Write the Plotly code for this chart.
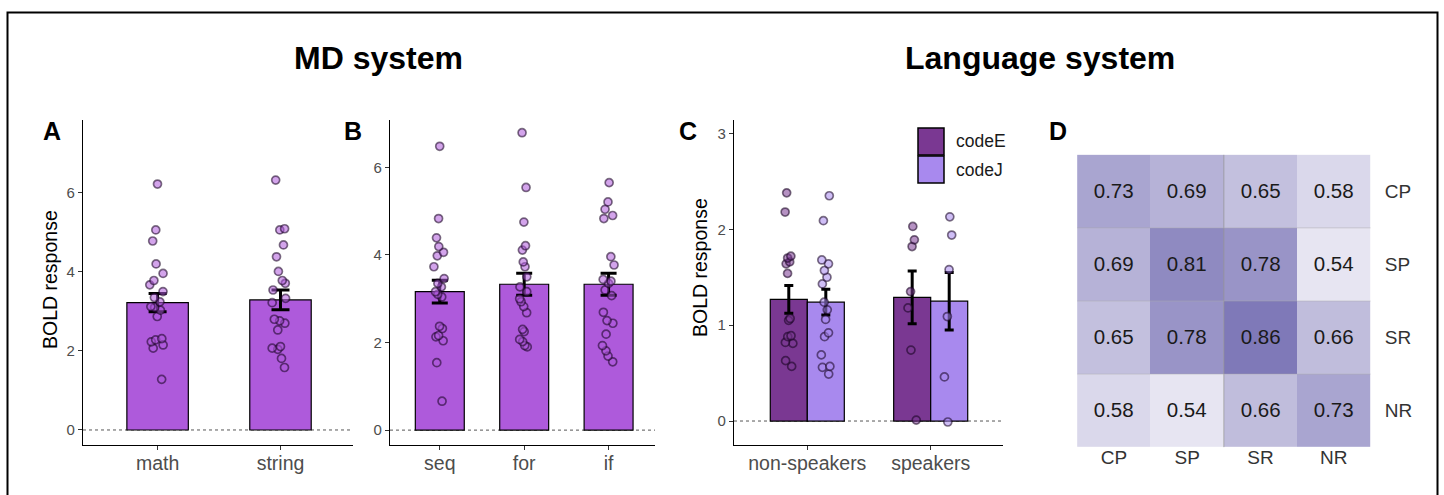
import plotly.graph_objects as go

# ---------------- data ----------------
md_a_categories = ["math", "string"]
md_a_means = [3.22, 3.29]
md_a_se = [0.23, 0.25]
md_a_math_points = [6.22, 5.06, 4.78, 4.20, 3.96, 3.78, 3.67, 3.50, 3.35, 3.24,
                    3.12, 3.03, 2.87, 2.31, 2.28, 2.23, 2.15, 2.07, 1.28, 3.10]
md_a_string_points = [6.32, 5.09, 5.06, 4.68, 4.38, 4.01, 3.78, 3.71, 3.54, 3.33,
                       3.22, 2.80, 2.76, 2.70, 2.53, 2.11, 2.07, 2.04, 1.81, 1.58]

md_b_categories = ["seq", "for", "if"]
md_b_means = [3.16, 3.33, 3.33]
md_b_se = [0.26, 0.25, 0.25]
md_b_seq_points = [6.48, 4.83, 4.39, 4.19, 4.06, 3.98, 3.73, 3.46, 3.27, 3.16,
                   3.04, 2.37, 2.32, 2.16, 2.13, 2.04, 1.54, 0.66, 3.35, 3.10]
md_b_for_points = [6.79, 5.54, 4.75, 4.21, 4.11, 3.84, 3.73, 3.50, 3.27, 3.16,
                   2.93, 2.82, 2.68, 2.30, 2.25, 2.07, 2.02, 1.93, 1.90, 3.00]
md_b_if_points = [5.65, 5.21, 5.04, 4.90, 4.83, 3.96, 3.77, 3.44, 3.35, 3.20,
                  3.07, 2.69, 2.50, 2.44, 2.19, 1.93, 1.81, 1.69, 1.56, 3.40]

lang_c_groups = ["non-speakers", "speakers"]
lang_c_codeE_means = [1.27, 1.29]
lang_c_codeE_se = [0.145, 0.275]
lang_c_codeJ_means = [1.24, 1.25]
lang_c_codeJ_se = [0.135, 0.30]
lang_c_codeE_nonspk_points = [2.38, 2.18, 1.72, 1.70, 1.66, 1.64, 1.54, 1.07, 1.05,
                              0.89, 0.88, 0.82, 0.81, 0.63, 0.57]
lang_c_codeJ_nonspk_points = [2.35, 2.09, 1.68, 1.64, 1.57, 1.50, 1.43, 1.24, 1.16,
                              1.06, 0.92, 0.88, 0.69, 0.57, 0.56, 0.49]
lang_c_codeE_spk_points = [2.03, 1.89, 1.82, 1.35, 1.18, 0.74, 0.01]
lang_c_codeJ_spk_points = [2.13, 1.94, 1.58, 1.09, 0.46, -0.01]

heat_labels = ["CP", "SP", "SR", "NR"]
heat_values = [
    [0.73, 0.69, 0.65, 0.58],
    [0.69, 0.81, 0.78, 0.54],
    [0.65, 0.78, 0.86, 0.66],
    [0.58, 0.54, 0.66, 0.73],
]

# ---------------- style ----------------
W, H = 1444, 495
FONT = "Liberation Sans, Arial, Helvetica, sans-serif"
BAR_MD = "#AE5ADB"
BAR_E = "#7A3892"
BAR_J = "#A889EE"
PT_MD = "rgba(174,90,219,0.55)"
PT_E = "rgba(122,56,146,0.55)"
PT_J = "rgba(168,137,238,0.55)"
PT_LINE = dict(color="rgba(20,0,30,0.55)", width=1.7)
TICK_GRAY = "#4D4D4D"


def px(x):
    return x / W


def py(y):
    return 1 - y / H


def jitter_box(xs, ys, color, xa, ya, group, align, jit):
    return go.Box(
        x=xs, y=ys, boxpoints="all", jitter=jit, pointpos=0, whiskerwidth=0,
        fillcolor="rgba(0,0,0,0)", line=dict(width=0, color="rgba(0,0,0,0)"),
        marker=dict(color=color, size=8, line=PT_LINE),
        offsetgroup=group, alignmentgroup=align,
        xaxis=xa, yaxis=ya, showlegend=False, hoverinfo="y")


fig = go.Figure()

# ---- Panel A ----
fig.add_trace(go.Bar(
    x=md_a_categories, y=md_a_means, width=0.5,
    marker=dict(color=BAR_MD, line=dict(color="black", width=1.2)),
    error_y=dict(type="data", array=md_a_se, color="black", thickness=3, width=9),
    xaxis="x", yaxis="y", showlegend=False))
fig.add_trace(jitter_box(
    [md_a_categories[0]] * len(md_a_math_points) + [md_a_categories[1]] * len(md_a_string_points),
    md_a_math_points + md_a_string_points, PT_MD, "x", "y", "a", "ga", 0.27))

# ---- Panel B ----
fig.add_trace(go.Bar(
    x=md_b_categories, y=md_b_means, width=0.58,
    marker=dict(color=BAR_MD, line=dict(color="black", width=1.2)),
    error_y=dict(type="data", array=md_b_se, color="black", thickness=3, width=8),
    xaxis="x2", yaxis="y2", showlegend=False))
b_x = ([md_b_categories[0]] * len(md_b_seq_points) + [md_b_categories[1]] * len(md_b_for_points)
       + [md_b_categories[2]] * len(md_b_if_points))
fig.add_trace(jitter_box(b_x, md_b_seq_points + md_b_for_points + md_b_if_points,
                         PT_MD, "x2", "y2", "b", "gb", 0.27))

# ---- Panel C ----
fig.add_trace(go.Bar(
    x=lang_c_groups, y=lang_c_codeE_means, name="codeE",
    marker=dict(color=BAR_E, line=dict(color="black", width=1.2)),
    error_y=dict(type="data", array=lang_c_codeE_se, color="black", thickness=3, width=4.5),
    xaxis="x3", yaxis="y3", showlegend=False))
fig.add_trace(go.Bar(
    x=lang_c_groups, y=lang_c_codeJ_means, name="codeJ",
    marker=dict(color=BAR_J, line=dict(color="black", width=1.2)),
    error_y=dict(type="data", array=lang_c_codeJ_se, color="black", thickness=3, width=4.5),
    xaxis="x3", yaxis="y3", showlegend=False))
fig.add_trace(jitter_box(
    [lang_c_groups[0]] * len(lang_c_codeE_nonspk_points) + [lang_c_groups[1]] * len(lang_c_codeE_spk_points),
    lang_c_codeE_nonspk_points + lang_c_codeE_spk_points, PT_E, "x3", "y3", "cE", "gc", 0.3))
fig.add_trace(jitter_box(
    [lang_c_groups[0]] * len(lang_c_codeJ_nonspk_points) + [lang_c_groups[1]] * len(lang_c_codeJ_spk_points),
    lang_c_codeJ_nonspk_points + lang_c_codeJ_spk_points, PT_J, "x3", "y3", "cJ", "gc", 0.3))

# ---- Panel D ----
fig.add_trace(go.Heatmap(
    z=heat_values, x=heat_labels, y=heat_labels,
    zmin=0.54, zmax=0.86,
    colorscale=[[0, "rgb(231,229,242)"], [1, "rgb(127,121,184)"]],
    showscale=False, texttemplate="%{z:.2f}",
    textfont=dict(size=20.5, color="#1a1a1a", family=FONT),
    xaxis="x4", yaxis="y4"))

# ---------------- axes ----------------
ydom = [py(445), py(120)]
common_x = dict(showline=True, linecolor="black", linewidth=1.2, ticks="outside",
                ticklen=4, tickcolor="#333333", tickwidth=1, showgrid=False,
                zeroline=False, tickfont=dict(size=19.5, color=TICK_GRAY, family=FONT),
                ticklabelstandoff=-4,
                type="category", fixedrange=True)
common_y = dict(showline=True, linecolor="black", linewidth=1.2, ticks="outside",
                ticklen=4, tickcolor="#333333", tickwidth=1, showgrid=False,
                zeroline=False, tickfont=dict(size=15, color=TICK_GRAY, family=FONT),
                fixedrange=True)

fig.update_layout(
    xaxis=dict(domain=[px(83), px(353)], range=[-0.607, 1.59], anchor="y", **common_x),
    yaxis=dict(domain=ydom, range=[-0.38, 7.84], tickvals=[0, 2, 4, 6], anchor="x", **common_y),
    xaxis2=dict(domain=[px(390), px(655)], range=[-0.59, 2.55], anchor="y2", **common_x),
    yaxis2=dict(domain=ydom, range=[-0.34, 7.08], tickvals=[0, 2, 4, 6], anchor="x2", **common_y),
    xaxis3=dict(domain=[px(734), px(1003)], range=[-0.594, 1.586], anchor="y3", **common_x),
    yaxis3=dict(domain=ydom, range=[-0.25, 3.14], tickvals=[0, 1, 2, 3], anchor="x3", **common_y),
    xaxis4=dict(domain=[px(1076.7), px(1371)], anchor="y4", showline=False, showgrid=False,
                zeroline=False, ticks="", ticklabelstandoff=-4,
                tickfont=dict(size=19, color="#333333", family=FONT), fixedrange=True),
    yaxis4=dict(domain=[py(447.7), py(154.3)], anchor="x4", side="right", autorange="reversed",
                showline=False, showgrid=False, zeroline=False, ticks="outside", ticklen=9,
                tickcolor="rgba(0,0,0,0)",
                tickfont=dict(size=19, color="#333333", family=FONT), fixedrange=True),
    barmode="group", bargap=0.4, bargroupgap=0,
    boxmode="group", boxgap=0.4, boxgroupgap=0,
    width=W, height=H, margin=dict(l=0, r=0, t=0, b=0),
    paper_bgcolor="white", plot_bgcolor="rgba(0,0,0,0)",
    font=dict(family=FONT, color="black"),
    showlegend=False,
)

shapes = []
# dotted zero lines
for xa, ya in [("x", "y"), ("x2", "y2"), ("x3", "y3")]:
    shapes.append(dict(type="line", xref=f"{xa} domain", yref=ya, x0=0, x1=1, y0=0, y1=0,
                       line=dict(color="#555555", width=1, dash="dot"), layer="below"))
# faint tile separators in panel D
shapes.append(dict(type="line", xref="x4", yref="y4", x0=1.5, x1=1.5, y0=-0.5, y1=3.5,
                   line=dict(color="rgba(150,150,150,0.75)", width=1)))
for yv in [0.5, 1.5, 2.5]:
    shapes.append(dict(type="line", xref="x4", yref="y4", x0=-0.5, x1=3.5, y0=yv, y1=yv,
                       line=dict(color="rgba(170,170,170,0.45)", width=1)))
# outer frame (left, top, right)
shapes.append(dict(type="path", xref="paper", yref="paper",
                   path=f"M {px(7.5)} -0.1 L {px(7.5)} {py(12.5)} L {px(1437.5)} {py(12.5)} L {px(1437.5)} -0.1",
                   line=dict(color="black", width=2)))
# manual legend keys for panel C
shapes.append(dict(type="rect", xref="paper", yref="paper", x0=px(918), x1=px(944),
                   y0=py(155), y1=py(128), fillcolor=BAR_E, line=dict(color="black", width=1.5)))
shapes.append(dict(type="rect", xref="paper", yref="paper", x0=px(918), x1=px(944),
                   y0=py(183), y1=py(156), fillcolor=BAR_J, line=dict(color="black", width=1.5)))
fig.update_layout(shapes=shapes)

ann = []


def add_text(text, x, y, size, bold=False, color="black", angle=0, xanchor="center"):
    ann.append(dict(text=f"<b>{text}</b>" if bold else text, x=px(x), y=py(y),
                    xref="paper", yref="paper", showarrow=False, textangle=angle,
                    xanchor=xanchor, yanchor="middle",
                    font=dict(size=size, color=color, family=FONT)))


add_text("MD system", 378, 58, 32, bold=True)
add_text("Language system", 1040, 58, 32, bold=True)
add_text("A", 52, 131, 25, bold=True)
add_text("B", 353, 131, 25, bold=True)
add_text("C", 688, 131, 25, bold=True)
add_text("D", 1058, 131, 25, bold=True)
add_text("BOLD response", 50, 280, 19.5, angle=-90)
add_text("BOLD response", 700, 268, 19.5, angle=-90)
add_text("codeE", 954, 141.5, 17.5, xanchor="left", color="#1a1a1a")
add_text("codeJ", 954, 169.5, 17.5, xanchor="left", color="#1a1a1a")
fig.update_layout(annotations=ann)

fig.write_html("out.html", config={"displayModeBar": False},
               post_script="document.body.style.margin='0px';")
